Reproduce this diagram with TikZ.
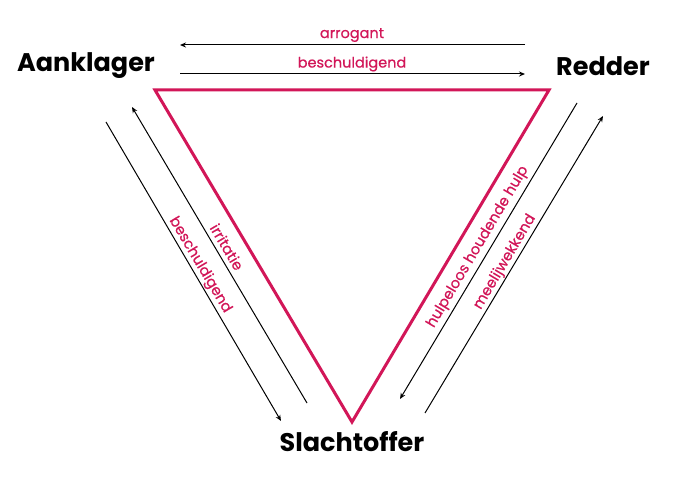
\documentclass[tikz,border=0pt]{standalone}
\usepackage{fontspec}
\setmainfont{Poppins}
\newfontfamily\lblfont[FakeBold=0.5]{Poppins}
\usetikzlibrary{arrows.meta}
\definecolor{crim}{RGB}{210,22,88}
\tikzset{
  role/.style={font=\fontsize{25.5}{29}\selectfont\bfseries, text=black, inner sep=0pt},
  lbl/.style={font=\lblfont\fontsize{14.5}{16}\selectfont, text=crim, inner sep=0pt},
  rel/.style={draw=black, line width=1pt, -{Stealth[length=6pt,width=5pt]}},
  tri/.style={draw=crim, line width=3pt, line join=miter}
}
\begin{document}
\begin{tikzpicture}[x=1pt,y=-1pt]
\useasboundingbox (0,0) rectangle (683,484);
\fill[white] (0,0) rectangle (683,484);
% roles
\node[role] (aan) at (86,66) {Aanklager};
\node[role] (red) at (603,66) {Redder};
\node[role] (sla) at (352,442) {Slachtoffer};
% triangle
\coordinate (tl) at (155,90);
\coordinate (tr) at (549,90);
\coordinate (bt) at (352,422);
\draw[tri] (tl) -- (tr) -- (bt) -- cycle;
% top arrows
\coordinate (a1) at (525,45);
\coordinate (a2) at (180,45);
\coordinate (b1) at (180,74);
\coordinate (b2) at (525,74);
\draw[rel] (a1) -- (a2);
\draw[rel] (b1) -- (b2);
\node[lbl] (larr) at (352,35) {arrogant};
\node[lbl] (lbes) at (352,64) {beschuldigend};
% left arrows
\coordinate (l1s) at (106,122);
\coordinate (l1e) at (281,421);
\coordinate (l2s) at (307,403);
\coordinate (l2e) at (132,107);
\draw[rel] (l1s) -- (l1e);
\draw[rel] (l2s) -- (l2e);
\node[lbl, rotate=-59.3] (lirr) at (227,247) {irritatie};
\node[lbl, rotate=-59.3] (lbes2) at (200,265) {beschuldigend};
% right arrows
\coordinate (r1s) at (577,103);
\coordinate (r1e) at (400,399);
\coordinate (r2s) at (425,413);
\coordinate (r2e) at (603,116);
\draw[rel] (r1s) -- (r1e);
\draw[rel] (r2s) -- (r2e);
\node[lbl, rotate=59.3] (lhul) at (478,247) {hulpeloos houdende hulp};
\node[lbl, rotate=59.3] (lmee) at (505,262) {meelijwekkend};
\end{tikzpicture}
\end{document}
